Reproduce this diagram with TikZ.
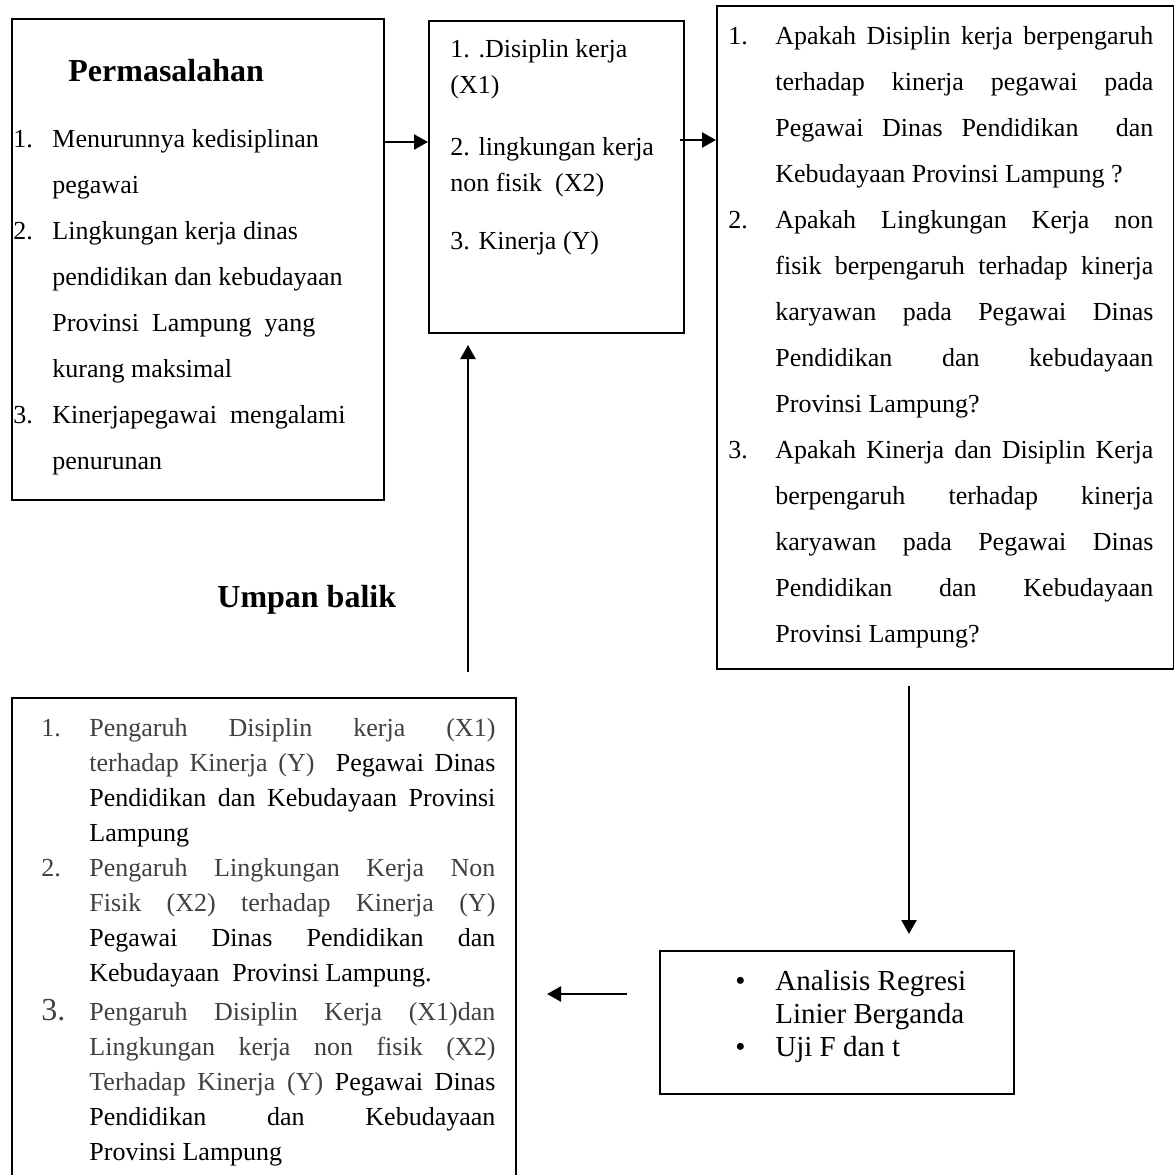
\documentclass[tikz,border=0pt]{standalone}
\usepackage{fontspec}
\setmainfont{Liberation Serif}
\usetikzlibrary{arrows.meta,calc}
\definecolor{greytext}{HTML}{404040}
% justified line of given width
\newcommand\jline[2]{{\spaceskip=0pt\xspaceskip=0pt\makebox[#1][s]{#2}}}
\begin{document}
\begin{tikzpicture}[x=0.5pt,y=-0.5pt,
  box/.style={draw, line width=1pt, rectangle, inner sep=0pt, anchor=north west},
  txt/.style={inner sep=0pt, anchor=base west, font=\fontsize{13}{23}\selectfont,
    execute at begin node={\spaceskip=0pt\xspaceskip=0pt\relax}},
  ttl/.style={inner sep=0pt, anchor=base west, font=\fontsize{16}{19}\selectfont\bfseries},
  arr/.style={line width=1.2pt, -{Triangle[length=7pt,width=7.5pt]}}
]
\useasboundingbox (0,0) rectangle (1174,1175);
\clip (0,0) rectangle (1174,1175);

% boxes
\node[box, minimum width=186pt, minimum height=240.5pt] (A) at (11,18) {};
\node[box, minimum width=127.5pt, minimum height=156pt] (B) at (428,20) {};
\node[box, minimum width=228.5pt, minimum height=331.5pt] (C) at (716,5) {};
\node[box, minimum width=252pt, minimum height=250pt] (D) at (11,697) {};
\node[box, minimum width=177pt, minimum height=71.5pt] (E) at (659,950) {};

% box A text
\node[ttl] (Atitle) at (68,81) {Permasalahan};
\node[txt, text width=185pt] (Alist) at (13,147) {%
\makebox[19.5pt][l]{1.}Menurunnya kedisiplinan\\
\hspace*{19.5pt}pegawai\\
\makebox[19.5pt][l]{2.}Lingkungan kerja dinas\\
\hspace*{19.5pt}pendidikan dan kebudayaan\\
\hspace*{19.5pt}Provinsi\ \ Lampung\ \ yang\\
\hspace*{19.5pt}kurang maksimal\\
\makebox[19.5pt][l]{3.}Kinerjapegawai\ \ mengalami\\
\hspace*{19.5pt}penurunan};

% box B text
\node[txt, text width=120pt, font=\fontsize{13}{18}\selectfont] (Blist) at (450,57) {%
1. .Disiplin kerja\\
(X1)\\[13pt]
2. lingkungan kerja\\
non fisik\ \ (X2)\\[11pt]
3. Kinerja (Y)};

% box C text
\node[txt, text width=215pt] (Clist) at (728,44) {%
\makebox[23.5pt][l]{1.}\jline{189pt}{Apakah Disiplin kerja berpengaruh}\\
\hspace*{23.5pt}\jline{189pt}{terhadap kinerja pegawai pada}\\
\hspace*{23.5pt}\jline{189pt}{Pegawai Dinas Pendidikan\ \ dan}\\
\hspace*{23.5pt}Kebudayaan Provinsi Lampung ?\\
\makebox[23.5pt][l]{2.}\jline{189pt}{Apakah Lingkungan Kerja non}\\
\hspace*{23.5pt}\jline{189pt}{fisik berpengaruh terhadap kinerja}\\
\hspace*{23.5pt}\jline{189pt}{karyawan pada Pegawai Dinas}\\
\hspace*{23.5pt}\jline{189pt}{Pendidikan dan kebudayaan}\\
\hspace*{23.5pt}Provinsi Lampung?\\
\makebox[23.5pt][l]{3.}\jline{189pt}{Apakah Kinerja dan Disiplin Kerja}\\
\hspace*{23.5pt}\jline{189pt}{berpengaruh terhadap kinerja}\\
\hspace*{23.5pt}\jline{189pt}{karyawan pada Pegawai Dinas}\\
\hspace*{23.5pt}\jline{189pt}{Pendidikan dan Kebudayaan}\\
\hspace*{23.5pt}Provinsi Lampung?};

% box D text
\node[txt, text width=230pt, font=\fontsize{13}{17.5}\selectfont] (Dlist) at (41,736) {%
\makebox[24pt][l]{\color{greytext}1.}\jline{203pt}{\color{greytext}Pengaruh Disiplin kerja (X1)}\\
\hspace*{24pt}\jline{203pt}{{\color{greytext}terhadap Kinerja (Y)}\ \ Pegawai Dinas}\\
\hspace*{24pt}\jline{203pt}{Pendidikan dan Kebudayaan Provinsi}\\
\hspace*{24pt}Lampung\\
\makebox[24pt][l]{\color{greytext}2.}\jline{203pt}{\color{greytext}Pengaruh Lingkungan Kerja Non}\\
\hspace*{24pt}\jline{203pt}{\color{greytext}Fisik (X2) terhadap Kinerja (Y)}\\
\hspace*{24pt}\jline{203pt}{Pegawai Dinas Pendidikan dan}\\
\hspace*{24pt}Kebudayaan\ \ Provinsi Lampung.\\[2pt]
\makebox[24pt][l]{\color{greytext}\fontsize{16}{17.5}\selectfont 3.}\jline{203pt}{\color{greytext}Pengaruh Disiplin Kerja (X1)dan}\\
\hspace*{24pt}\jline{203pt}{\color{greytext}Lingkungan kerja non fisik (X2)}\\
\hspace*{24pt}\jline{203pt}{{\color{greytext}Terhadap Kinerja (Y)} Pegawai Dinas}\\
\hspace*{24pt}\jline{203pt}{Pendidikan dan Kebudayaan}\\
\hspace*{24pt}Provinsi Lampung};

% box E text
\node[txt, text width=150pt, font=\fontsize{14.5}{16.5}\selectfont] (Elist) at (735,990) {%
\makebox[20pt][l]{\textbullet}Analisis Regresi\\
\hspace*{20pt}Linier Berganda\\
\makebox[20pt][l]{\textbullet}Uji F dan t};

% feedback label
\node[ttl] (fb) at (217,607) {Umpan balik};

% connectors
\coordinate (r1) at (0,142);
\coordinate (r2) at (0,140);
\coordinate (u0) at (468,672);
\coordinate (d0) at (909,684);
\coordinate (l0) at (627,994);
\draw[arr] (A.east |- r1) -- (B.west |- r1);
\draw[arr] ($(B.east |- r2)+(-5,0)$) -- (C.west |- r2);
\draw[arr] (u0) -- ($(B.south -| u0)+(0,11)$);
\draw[arr] ($(C.south -| d0)+(0,16)$) -- ($(E.north -| d0)+(0,-16)$);
\draw[arr] (E.west |- l0) ++(-32,0) -- ($(D.east |- l0)+(30,0)$);
\end{tikzpicture}
\end{document}
